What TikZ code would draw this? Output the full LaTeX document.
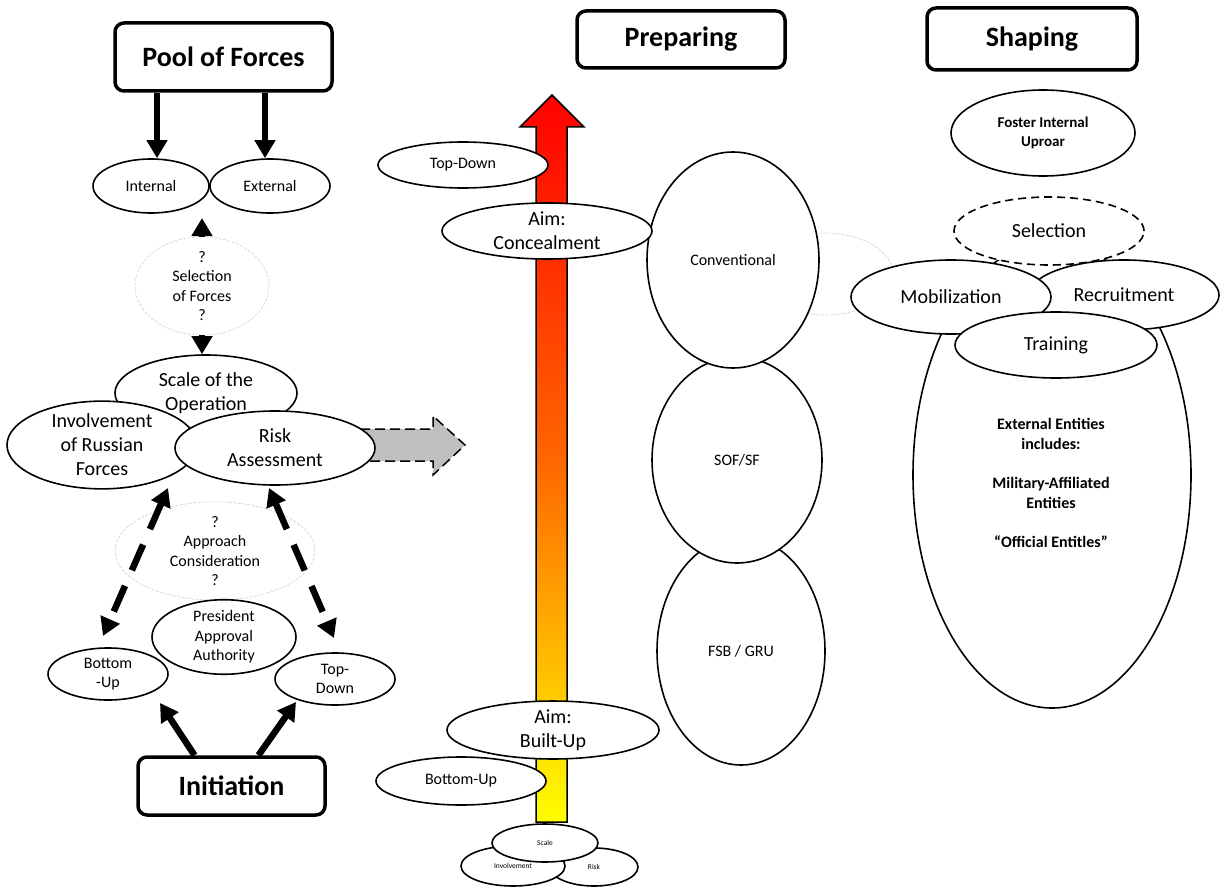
\documentclass[tikz,border=0pt]{standalone}
\usepackage{fontspec}
\setmainfont{Carlito}
\usetikzlibrary{shapes.geometric,arrows.meta}

\newcommand{\fsA}{\fontsize{16}{19.5}\selectfont}
\newcommand{\fsB}{\fontsize{20}{24}\selectfont}
\newcommand{\fsT}{\fontsize{7.5}{9}\selectfont}

\tikzset{
  every node/.style={inner sep=0pt, align=center},
  oval/.style={ellipse, draw, fill=white, line width=1.6pt},
  faint/.style={ellipse, draw=black!18, fill=white, line width=0.6pt, dash pattern=on 3pt off 1.5pt},
  header/.style={draw, fill=white, rounded corners=9pt, line width=3.5pt,
    font=\fontsize{28}{32}\selectfont\bfseries},
  bigarrow/.style={line width=6.5pt, -{Triangle[length=18pt,width=20pt]}},
  dasharrow/.style={line width=6.5pt, dash pattern=on 28pt off 17pt,
    {Triangle[length=18pt,width=20pt]}-{Triangle[length=18pt,width=20pt]}},
  ew/.style={minimum width=#1},
  eh/.style={minimum height=#1},
}

\begin{document}
\begin{tikzpicture}[x=1pt,y=-1pt]
\useasboundingbox (0,0) rectangle (1228,888);

% ---------------- Initiation column ----------------
\node[header, minimum width=217pt, minimum height=68pt] (pool) at (223.5,57) {Pool of Forces};
\node[oval, ew=116pt, eh=54pt, font=\fsA] (intl) at (151,186) {Internal};
\node[oval, ew=120pt, eh=54pt, font=\fsA] (extl) at (270,186) {External};
\draw[bigarrow] ([xshift=6pt]intl.north |- pool.south) -- ([xshift=6pt]intl.north);
\draw[bigarrow] ([xshift=-5pt]extl.north |- pool.south) -- ([xshift=-5pt]extl.north);

\node[oval, ew=182pt, eh=76pt, font=\fsB] (scale) at (206,393) {Scale of the\\Operation};
\coordinate (selTop) at (202,218);
\node[faint, ew=134pt, eh=78pt, font=\fsA] (selF) at (202,286) {?\\Selection\\of Forces\\?};
\draw[bigarrow] (selF.north) -- (selTop);
\draw[bigarrow] (selF.south) -- (selF.south |- scale.north);

\node[oval, ew=190pt, eh=74pt, font=\fsB] (invol) at (102,445) {Involvement\\of Russian\\Forces};
% dashed hand-over arrow towards the preparing phase
\draw[line width=1.5pt, dash pattern=on 10pt off 5pt, fill=black!25]
  (360,429) -- (433,429) -- (433,416) -- (465,445) -- (433,475) -- (433,461) -- (360,461) -- cycle;
\node[oval, ew=200pt, eh=74pt, font=\fsB] (risk) at (275,448) {Risk\\Assessment};

\node[faint, ew=200pt, eh=76pt, font=\fsA] (appr) at (215,551) {?\\Approach\\Consideration\\?};
\node[oval, ew=144pt, eh=66pt, font=\fsA] (pres) at (224,637) {President\\Approval\\Authority};
\node[oval, ew=120pt, eh=52pt, font=\fsA] (bup) at (108,674) {Bottom\\-Up};
\node[oval, ew=120pt, eh=52pt, font=\fsA] (tdn) at (335,679) {Top-\\Down};

\coordinate (a1) at (168,488);
\coordinate (a2) at (103,636);
\coordinate (a3) at (269,488);
\coordinate (a4) at (334,638);
\draw[dasharrow] (a1) -- (a2);
\draw[dasharrow] (a3) -- (a4);

\node[header, minimum width=187pt, minimum height=58pt] (init) at (231.5,786) {Initiation};
\coordinate (bupTip) at (160,703);
\coordinate (tdnTip) at (296,702);
\draw[bigarrow] ([xshift=-37pt]init.north) -- (bupTip);
\draw[bigarrow] ([xshift=27pt]init.north) -- (tdnTip);

% ---------------- Preparing column ----------------
\node[header, minimum width=208pt, minimum height=57pt] (prep) at (681,39.5) {Preparing};

% gradient scale from built-up (bottom) to concealment (top)
\shade[top color=red, bottom color=yellow, middle color={rgb,1:red,1;green,0.4;blue,0},
       draw=black, line width=1.5pt]
  (536,822) -- (536,127) -- (520,127) -- (552,95) -- (584,127) -- (567,127) -- (567,822) -- cycle;

\node[oval, ew=170pt, eh=46pt, font=\fsA] (tdM) at (463,165) {Top-Down};
\node[oval, ew=212pt, eh=56pt, font=\fsB] (aimB) at (553,730) {Aim:\\Built-Up};
\node[oval, ew=170pt, eh=48pt, font=\fsA] (bupM) at (461,781) {Bottom-Up};

\node[oval, ew=88pt, eh=38pt, font=\fsT] (riskS) at (594,867) {Risk};
\node[oval, ew=104pt, eh=40pt, font=\fsT] (invS) at (513,866) {Involvement};
\node[oval, ew=106pt, eh=38pt, font=\fsT] (scaleS) at (545,843) {Scale};

\node[faint, ew=136pt, eh=82pt] (ghost) at (825,274) {};
\node[oval, ew=168pt, eh=228pt, font=\fsA] (fsb) at (741,651) {FSB / GRU};
\node[oval, ew=170pt, eh=206pt, font=\fsA] (sof) at (737,460) {SOF/SF};
\node[oval, ew=172pt, eh=216pt, font=\fsA] (conv) at (733,260) {Conventional};
\node[oval, ew=210pt, eh=56pt, font=\fsB] (aimC) at (547,231) {Aim:\\Concealment};

% ---------------- Shaping column ----------------
\node[header, minimum width=210pt, minimum height=62pt] (shap) at (1032,39) {Shaping};
\node[oval, ew=184pt, eh=86pt, font=\fontsize{15}{19}\selectfont\bfseries] (foster) at (1043,133) {Foster Internal\\Uproar};

\node[oval, ew=278pt, eh=466pt] (big) at (1052,475) {};
\node[font=\fontsize{16}{19.7}\selectfont\bfseries] (bigT) at (1051,483)
  {External Entities\\includes:\\~\\Military-Affiliated\\Entities\\~\\“Official Entitles”};

\node[oval, dash pattern=on 8pt off 5pt, ew=190pt, eh=68pt, font=\fsB] (selS) at (1049,231) {Selection};
\node[oval, ew=190pt, eh=70pt, font=\fsB] (recr) at (1124,295) {Recruitment};
\node[oval, ew=200pt, eh=74pt, font=\fsB] (mob) at (951,297) {Mobilization};
\node[oval, ew=202pt, eh=66pt, font=\fsB] (train) at (1056,345) {Training};

\end{tikzpicture}
\end{document}
